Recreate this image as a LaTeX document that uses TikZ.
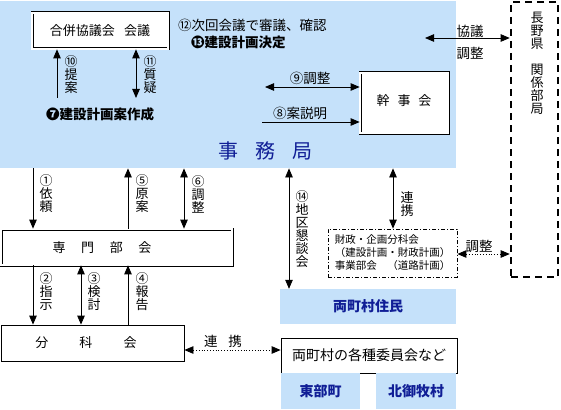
\documentclass[tikz,border=0pt]{standalone}
\usepackage{fontspec}
\setmainfont{Noto Sans CJK JP}
\usetikzlibrary{arrows.meta}
\definecolor{bgblue}{RGB}{197,225,250}
\definecolor{txtblue}{RGB}{16,30,150}
\begin{document}
\begin{tikzpicture}[x=1pt,y=-1pt,
  base/.style={font=\fontsize{13.5}{13.5}\selectfont, inner sep=0pt},
  vlab/.style={font=\fontsize{13}{13}\selectfont, inner sep=0pt, align=center},
  small/.style={font=\fontsize{10.5}{13}\selectfont, inner sep=0pt},
  dbox/.style={draw, double, double distance=1.6pt, line width=0.7pt, fill=white, inner sep=0pt, anchor=center},
  sbox/.style={draw, line width=0.8pt, fill=white, inner sep=0pt, anchor=center},
  bbox/.style={fill=bgblue, inner sep=0pt, anchor=center, text=txtblue, font=\fontsize{14}{14}\selectfont\bfseries},
  arr/.style={line width=0.8pt, -{Triangle[length=9pt,width=7.5pt]}},
  darr/.style={line width=0.8pt, {Triangle[length=9pt,width=7.5pt]}-{Triangle[length=9pt,width=7.5pt]}}
]
\useasboundingbox (0,0) rectangle (561,409);
% background of 事務局
\node[fill=bgblue, minimum width=456pt, minimum height=167pt, inner sep=0pt, anchor=north west] (jimu) at (0,1) {};
\node[inner sep=0pt, text=txtblue, font=\fontsize{20}{20}\selectfont] (jimutxt) at (265,151) {事\hspace{17pt}務\hspace{17pt}局};

% boxes
\node[dbox, minimum width=136pt, minimum height=36pt, font=\fontsize{13}{13}\selectfont] (gappei) at (100,31) {合併協議会\hspace{0.7em}会議};
\node[dbox, minimum width=88pt, minimum height=60pt, font=\fontsize{13}{13}\selectfont] (kanji) at (404,103) {\raisebox{5pt}{幹\hspace{0.6em}事\hspace{0.6em}会}};
\node[draw, dashed, line width=2.6pt, dash pattern=on 7pt off 5pt, minimum width=47pt, minimum height=275pt, inner sep=0pt] (nagano) at (534.5,139.5) {};
\node[vlab] (naganotxt) at (537,63) {長\\野\\県\\[13pt]関\\係\\部\\局};

\node[dbox, minimum width=231pt, minimum height=36pt, font=\fontsize{13}{13}\selectfont] (senmon) at (116.5,247) {};
\node[inner sep=0pt, font=\fontsize{13}{13}\selectfont] (senmontxt) at (102,248) {専\hspace{1.2em}門\hspace{1.2em}部\hspace{1.2em}会};
\node[sbox, minimum width=183pt, minimum height=36pt] (bunka) at (92.5,343) {};
\node[inner sep=0pt, font=\fontsize{13}{13}\selectfont] (bunkatxt) at (86,343) {分\hspace{2.4em}科\hspace{2.4em}会};

\node[draw, line width=0.7pt, dash pattern=on 4pt off 2pt on 1pt off 2pt, minimum width=129pt, minimum height=48pt, inner sep=0pt, small, align=left] (zaisei) at (392.5,253) {財政・企画分科会\\（建設計画・財政計画）\\事業部会\hspace{1em}（道路計画）};

\node[bbox, minimum width=176pt, minimum height=35pt] (jumin) at (368,306.5) {両町村住民};
\node[sbox, minimum width=176pt, minimum height=35pt, font=\fontsize{14}{14}\selectfont] (iinkai) at (369,355.5) {両町村の各種委員会など};
\node[bbox, minimum width=79pt, minimum height=36pt] (tobu) at (320.5,391) {東部町};
\node[bbox, minimum width=80pt, minimum height=36pt] (kitami) at (416,391) {北御牧村};

% top texts
\node[base, anchor=west] (t12) at (178,25) {⑫次回会議で審議、確認};
\node[base, anchor=west, font=\fontsize{13.5}{13.5}\selectfont\bfseries] (t13) at (191,42) {⓭建設計画決定};
\node[base, font=\fontsize{13.5}{13.5}\selectfont\bfseries] (t7) at (100,114) {❼建設計画案作成};

% columns
\coordinate (c1) at (33,0);
\coordinate (c3) at (81,0);
\coordinate (c5) at (128,0);
\coordinate (c6) at (184,0);
\coordinate (c14) at (289,0);
\coordinate (cR) at (393,0);
\coordinate (e10) at (57,98);
\coordinate (e11) at (136,98);
\coordinate (k1) at (425,38);
\coordinate (k9) at (265,87);
\coordinate (k8) at (262,122);
\coordinate (k0) at (0,254);
\coordinate (k2) at (0,350);

% arrows top
\draw[arr] (e10) -- (e10 |- gappei.south);
\draw[darr] (e11) -- (e11 |- gappei.south);
\node[vlab] (l10) at (71,75) {⑩\\提\\案};
\node[vlab] (l11) at (150,75) {⑪\\質\\疑};

\draw[darr] (k1) -- (k1 -| nagano.west);
\node[base] (lk1) at (470,31) {協議};
\node[base] (lk2) at (470,53) {調整};

\draw[darr] (k9) -- (k9 -| kanji.west);
\node[base] (l9) at (310,78) {⑨調整};
\draw[arr] (k8) -- (k8 -| kanji.west);
\node[base] (l8) at (300,113) {⑧案説明};

% arrows middle
\draw[arr] (c1 |- jimu.south) -- (c1 |- senmon.north);
\draw[arr] (c5 |- senmon.north) -- (c5 |- jimu.south);
\draw[darr] (c6 |- jimu.south) -- (c6 |- senmon.north);
\node[vlab] (l1) at (46,194) {①\\依\\頼};
\node[vlab] (l5) at (142,194) {⑤\\原\\案};
\node[vlab] (l6) at (198,194) {⑥\\調\\整};

\draw[arr] (c1 |- senmon.south) -- (c1 |- bunka.north);
\draw[darr] (c3 |- senmon.south) -- (c3 |- bunka.north);
\draw[arr] (c5 |- bunka.north) -- (c5 |- senmon.south);
\node[vlab] (l2) at (46,292) {②\\指\\示};
\node[vlab] (l3) at (94,292) {③\\検\\討};
\node[vlab] (l4) at (142,292) {④\\報\\告};

\draw[darr, dotted] (bunka.east |- k2) -- (iinkai.west |- k2);
\node[base] (lr) at (223,341) {連\hspace{0.8em}携};

\draw[darr] (c14 |- jimu.south) -- (c14 |- jumin.north);
\node[vlab] (l14) at (302,229) {⑭\\地\\区\\懇\\談\\会};
\draw[darr] (cR |- jimu.south) -- (cR |- zaisei.north);
\node[vlab] (lr2) at (407,204) {連\\携};

\draw[darr, dotted] (zaisei.east |- k0) -- (nagano.west |- k0);
\node[base] (lz) at (479,246) {調整};
\end{tikzpicture}
\end{document}
